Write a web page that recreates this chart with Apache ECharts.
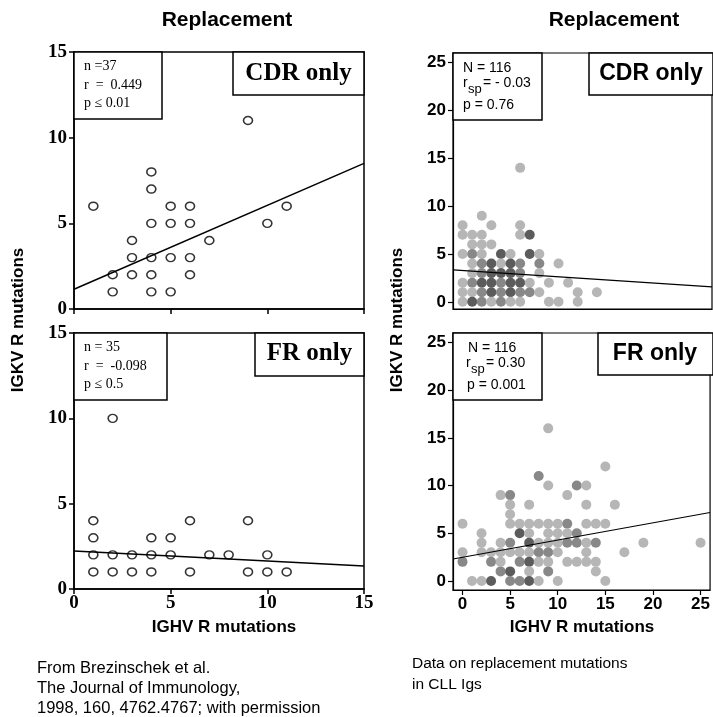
<!DOCTYPE html>
<html>
<head>
<meta charset="utf-8">
<script src="https://cdn.jsdelivr.net/npm/echarts@6/dist/echarts.min.js"></script>
<style>
  html, body { margin: 0; padding: 0; background: #fff; }
  #chart { width: 713px; height: 717px; }
</style>
</head>
<body>
<div id="chart"></div>
<script>
// left column: Brezinschek et al. (open circles)
const cdrLeft = [[9,11],[4,8],[4,7],[1,6],[5,6],[6,6],[11,6],[4,5],[5,5],[6,5],[10,5],
  [3,4],[7,4],[3,3],[4,3],[5,3],[6,3],[2,2],[3,2],[4,2],[6,2],[2,1],[4,1],[5,1]]
const frLeft = [[2,10],[1,4],[6,4],[9,4],[1,3],[4,3],[5,3],[1,2],[2,2],[3,2],[4,2],[5,2],
  [7,2],[8,2],[10,2],[1,1],[2,1],[3,1],[4,1],[6,1],[9,1],[10,1],[11,1]]
const cdrLeftFit = [[0,1.15],[15,8.5]]
const frLeftFit = [[0,2.22],[15,1.35]]

// right column: CLL Igs, third value = how many points overlap (shade)
const cdrRight = [[6,14,1],[2,9,1],
  [0,8,1],[3,8,1],[6,8,1],
  [0,7,1],[1,7,1],[2,7,1],[6,7,1],[7,7,3],
  [1,6,1],[2,6,1],[3,6,1],
  [0,5,1],[1,5,2],[2,5,1],[4,5,3],[5,5,1],[7,5,3],[8,5,1],
  [1,4,1],[2,4,2],[3,4,3],[4,4,1],[5,4,3],[6,4,2],[8,4,2],[10,4,1],
  [1,3,1],[2,3,2],[3,3,3],[4,3,3],[5,3,3],[6,3,2],[8,3,1],
  [0,2,1],[1,2,2],[2,2,3],[3,2,3],[4,2,2],[5,2,3],[6,2,3],[7,2,1],[9,2,1],[11,2,1],
  [0,1,1],[1,1,1],[2,1,2],[3,1,3],[4,1,2],[5,1,3],[6,1,2],[7,1,2],[8,1,1],[12,1,1],[14,1,1],
  [0,0,1],[1,0,3],[2,0,2],[3,0,1],[4,0,2],[5,0,1],[6,0,1],[9,0,1],[10,0,1],[12,0,1]]
const frRight = [[9,16,1],[15,12,1],[8,11,2],
  [9,10,1],[12,10,2],[13,10,1],
  [4,9,1],[5,9,2],[11,9,1],
  [5,8,1],[7,8,1],[13,8,1],[16,8,1],
  [5,7,1],
  [0,6,1],[5,6,1],[6,6,1],[7,6,1],[8,6,1],[9,6,1],[10,6,1],[11,6,2],[13,6,1],[14,6,1],[15,6,1],
  [2,5,1],[6,5,3],[7,5,1],[9,5,1],[10,5,1],[11,5,1],[12,5,2],
  [2,4,1],[4,4,1],[5,4,2],[7,4,3],[8,4,1],[9,4,1],[10,4,1],[11,4,2],[12,4,2],[13,4,1],[14,4,2],[19,4,1],[25,4,1],
  [0,3,1],[2,3,1],[3,3,1],[4,3,1],[5,3,1],[6,3,1],[7,3,1],[8,3,2],[9,3,2],[10,3,1],[13,3,1],[17,3,1],
  [0,2,2],[3,2,2],[4,2,1],[6,2,2],[7,2,3],[8,2,1],[9,2,1],[11,2,1],[12,2,1],[13,2,1],[14,2,1],
  [4,1,2],[5,1,3],[7,1,1],[9,1,2],[14,1,1],
  [1,0,1],[2,0,1],[3,0,3],[5,0,2],[6,0,2],[7,0,3],[8,0,1],[10,0,1],[15,0,1]]
const cdrRightFit = [[-1,3.33],[26,1.56]]
const frRightFit = [[-1,2.3],[26,7.18]]

const leftTicks = [0,5,10,15]
const rightTicks = [0,5,10,15,20,25]

const shades = ['#b6b6b6', '#888888', '#5c5c5c']
const SERIF = "'Liberation Serif', 'DejaVu Serif', serif"
const SANS = "'Liberation Sans', Arial, sans-serif"
const black = { color: '#000', width: 1.5 }

function leftX(grid, labels) {
  return {
    gridIndex: grid, type: 'value', min: 0, max: 15, interval: 5,
    axisLine: { show: true, onZero: false, lineStyle: black },
    axisTick: { show: true, length: 5, lineStyle: black },
    axisLabel: { show: labels, color: '#000', fontFamily: SERIF, fontWeight: 'bold', fontSize: 19, margin: 5 },
    splitLine: { show: false }
  }
}
function leftY(grid) {
  return {
    gridIndex: grid, type: 'value', min: 0, max: 15, interval: 5,
    axisLine: { show: true, onZero: false, lineStyle: black },
    axisTick: { show: true, length: 5, lineStyle: black },
    axisLabel: { color: '#000', fontFamily: SERIF, fontWeight: 'bold', fontSize: 19, margin: 7 },
    splitLine: { show: false }
  }
}
function rightX(grid, labels) {
  return {
    gridIndex: grid, type: 'value', min: -1, max: 26,
    axisLine: { show: true, onZero: false, lineStyle: { color: '#000', width: 1.2 } },
    axisTick: { show: labels, length: 5, customValues: rightTicks, lineStyle: { color: '#000', width: 1.2 } },
    axisLabel: { show: labels, customValues: rightTicks, color: '#000', fontFamily: SANS, fontWeight: 'bold', fontSize: 17, margin: 6 },
    splitLine: { show: false }
  }
}
function rightY(grid, min) {
  return {
    gridIndex: grid, type: 'value', min: min, max: 26,
    axisLine: { show: true, onZero: false, lineStyle: { color: '#000', width: 1.2 } },
    axisTick: { show: true, length: 5, customValues: rightTicks, lineStyle: { color: '#000', width: 1.2 } },
    axisLabel: { customValues: rightTicks, color: '#000', fontFamily: SANS, fontWeight: 'bold', fontSize: 17, margin: 7 },
    splitLine: { show: false }
  }
}

function openScatter(i, data) {
  return {
    type: 'scatter', xAxisIndex: i, yAxisIndex: i, data: data,
    symbol: 'circle', symbolSize: [9, 8],
    itemStyle: { color: '#fff', borderColor: '#000', borderWidth: 1.5 }, z: 3
  }
}
function shadedScatter(i, data) {
  return {
    type: 'scatter', xAxisIndex: i, yAxisIndex: i, data: data,
    symbol: 'circle', symbolSize: 10,
    itemStyle: { opacity: 1, color: p => shades[p.value[2] - 1] }, z: 3
  }
}
function fitLine(i, data, w) {
  return {
    type: 'line', xAxisIndex: i, yAxisIndex: i, data: data, symbol: 'none',
    lineStyle: { color: '#000', width: w }, z: 5, silent: true
  }
}

function txt(x, y, text, font, size, weight, align, extra) {
  return Object.assign({
    type: 'text', x: x, y: y, z: 20,
    style: { text: text, fontFamily: font, fontSize: size, fontWeight: weight || 'normal',
      fill: '#000', align: align || 'left', verticalAlign: 'middle' }
  }, extra || {})
}
function box(x, y, w, h) {
  return { type: 'rect', z: 15, shape: { x: x, y: y, width: w, height: h },
    style: { fill: '#fff', stroke: '#000', lineWidth: 1.5 } }
}

const chart = echarts.init(document.getElementById('chart'), null, { renderer: 'canvas' })

chart.setOption({
  animation: false,
  backgroundColor: '#fff',
  grid: [
    { left: 74, top: 52, width: 290, height: 257, show: true, borderColor: '#000', borderWidth: 1.5 },
    { left: 74, top: 333, width: 290, height: 256, show: true, borderColor: '#000', borderWidth: 1.5 },
    { left: 453, top: 53, width: 259, height: 256, show: true, borderColor: '#000', borderWidth: 1.2 },
    { left: 453, top: 333, width: 259, height: 257, show: true, borderColor: '#000', borderWidth: 1.2 }
  ],
  xAxis: [leftX(0, false), leftX(1, true), rightX(2, false), rightX(3, true)],
  yAxis: [leftY(0), leftY(1), rightY(2, -0.75), rightY(3, -0.95)],
  series: [
    openScatter(0, cdrLeft), fitLine(0, cdrLeftFit, 1.5),
    openScatter(1, frLeft), fitLine(1, frLeftFit, 1.5),
    shadedScatter(2, cdrRight), fitLine(2, cdrRightFit, 1.2),
    shadedScatter(3, frRight), fitLine(3, frRightFit, 1.2)
  ],
  graphic: [
    txt(227, 20, 'Replacement', SANS, 21, 'bold', 'center'),
    txt(614, 20, 'Replacement', SANS, 21, 'bold', 'center'),

    // top-left panel labels
    box(74, 52, 88, 67),
    txt(84, 66, 'n =37', SERIF, 14),
    txt(84, 85, 'r  =  0.449', SERIF, 14),
    txt(84, 103, 'p \u2264 0.01', SERIF, 14),
    box(233, 52, 131, 43),
    txt(298.5, 74, 'CDR only', SERIF, 25, 'bold', 'center'),

    // bottom-left panel labels
    box(74, 333, 93, 67),
    txt(84, 347, 'n = 35', SERIF, 14),
    txt(84, 366, 'r  =  -0.098', SERIF, 14),
    txt(84, 384, 'p \u2264 0.5', SERIF, 14),
    box(255, 333, 109, 43),
    txt(309.5, 354, 'FR only', SERIF, 25, 'bold', 'center'),

    // top-right panel labels
    box(453, 53, 89, 67),
    txt(463, 68, 'N = 116', SANS, 14),
    txt(463, 83, 'r', SANS, 14),
    txt(468, 89, 'sp', SANS, 13),
    txt(483, 83, '= - 0.03', SANS, 14),
    txt(463, 105, 'p = 0.76', SANS, 14),
    box(589, 53, 124, 42),
    txt(651, 74, 'CDR only', SANS, 23, 'bold', 'center'),

    // bottom-right panel labels
    box(453, 333, 89, 67),
    txt(468, 348, 'N = 116', SANS, 14),
    txt(466, 363, 'r', SANS, 14),
    txt(471, 369, 'sp', SANS, 13),
    txt(486, 363, '= 0.30', SANS, 14),
    txt(467, 385, 'p = 0.001', SANS, 14),
    box(598, 333, 115, 42),
    txt(655, 354, 'FR only', SANS, 23, 'bold', 'center'),

    // axis titles
    txt(224, 627, 'IGHV R mutations', SANS, 17, 'bold', 'center'),
    txt(582, 627, 'IGHV R mutations', SANS, 17, 'bold', 'center'),
    txt(18, 320, 'IGKV R mutations', SANS, 17, 'bold', 'center', { rotation: Math.PI / 2 }),
    txt(397, 320, 'IGKV R mutations', SANS, 17, 'bold', 'center', { rotation: Math.PI / 2 }),

    // notes
    txt(37, 668, 'From Brezinschek et al.', SANS, 16.5),
    txt(37, 688.5, 'The Journal of Immunology,', SANS, 16.5),
    txt(37, 708, '1998, 160, 4762.4767; with permission', SANS, 16.5),
    txt(412, 664, 'Data on replacement mutations', SANS, 15.5),
    txt(412, 685, 'in CLL Igs', SANS, 15.5)
  ]
})
</script>
</body>
</html>
